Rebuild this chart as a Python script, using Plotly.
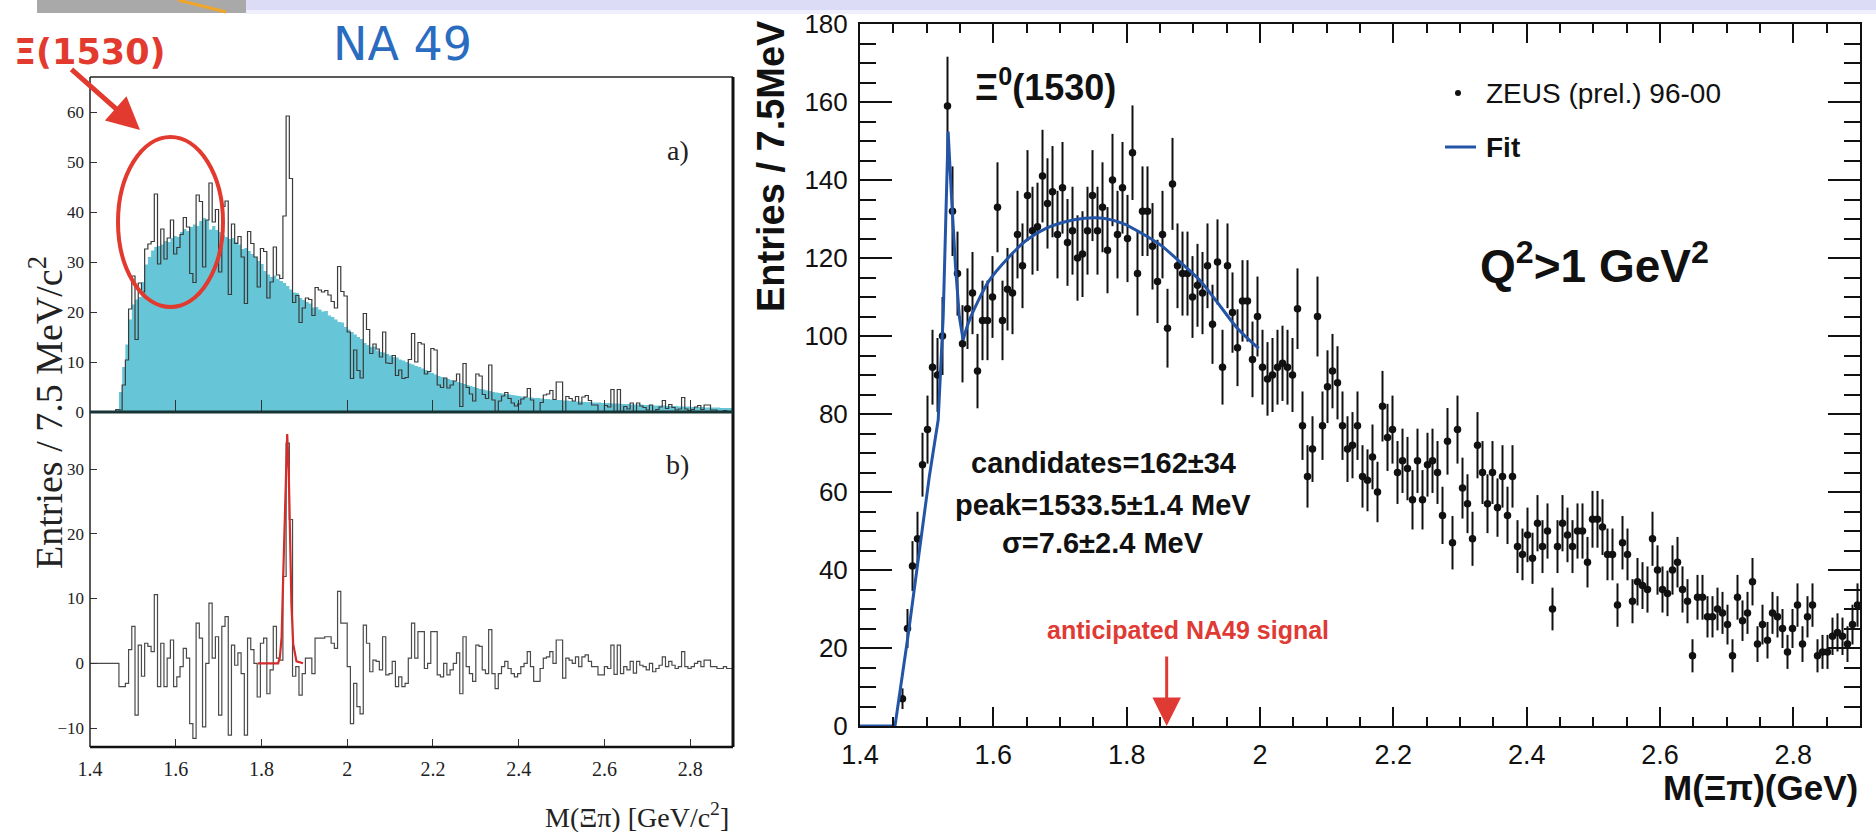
import plotly.graph_objects as go

W, H = 1876, 832

# ---------------- data ----------------
BIN_WIDTH = 0.0075          # GeV (7.5 MeV bins)
X_MIN, X_MAX = 1.4, 2.9
N_BINS = 200

# NA49 a): mixed-event background (cyan filled histogram)
na49_background = [
    0, 0, 0, 0, 0, 0, 0, 0, 0.5, 4,
    9, 13.5, 18.5, 21.5, 22.5, 23, 26, 29.5, 31, 32.3,
    33, 33.2, 33.5, 34.2, 34, 34.8, 35.2, 35, 36, 36.6,
    36.2, 37, 37.5, 37.2, 38.2, 38.8, 38.4, 36.5, 37.2, 36.4,
    36, 35.4, 35, 34.6, 34.8, 34, 33.5, 32.6, 32.8, 32.2,
    31.6, 31, 30.2, 29.6, 28.2, 27.5, 27, 27.3, 26.6, 26.2,
    25.8, 25.2, 24.5, 23.9, 23.8, 22.8, 22.4, 22, 21.7, 20.9,
    21, 20.5, 20.1, 20.2, 19.3, 19, 18.5, 18, 17.9, 17,
    16.5, 16, 15.5, 15, 14.6, 13.8, 13.4, 13, 13.1, 12.3,
    12, 11.9, 11.6, 11.3, 11, 10.9, 10.5, 10.3, 10, 9.7,
    9.5, 9.2, 9, 8.7, 8.4, 8.1, 7.8, 7.5, 7.2, 7,
    6.8, 6.6, 6.4, 6.2, 6, 5.8, 5.6, 5.4, 5.2, 5,
    4.8, 4.6, 4.5, 4.3, 4.2, 4, 3.9, 3.8, 3.7, 3.6,
    3.5, 3.4, 3.3, 3.2, 3.1, 3, 2.9, 2.9, 2.8, 2.8,
    2.7, 2.6, 2.6, 2.5, 2.5, 2.4, 2.4, 2.3, 2.3, 2.2,
    2.2, 2.1, 2.1, 2, 2, 2, 1.9, 1.9, 1.9, 1.8,
    1.8, 1.8, 1.7, 1.7, 1.7, 1.6, 1.6, 1.6, 1.5, 1.5,
    1.5, 1.5, 1.4, 1.4, 1.4, 1.3, 1.3, 1.3, 1.3, 1.2,
    1.2, 1.2, 1.2, 1.1, 1.1, 1.1, 1.1, 1, 1, 1,
    1, 0.9, 0.9, 0.9, 0.9, 0.9, 0.8, 0.8, 0.8, 0.8,
]

# NA49 a): Xi pi data (black outline histogram)
na49_data = [
    0, 0, 0, 0, 0, 0, 0, 0, 0.5, 0.4,
    5.4, 10.4, 20.6, 27.2, 14.5, 25.8, 24, 32.6, 33.6, 34.1,
    43.6, 29.6, 36.6, 30.6, 34.8, 38.4, 31.6, 32.9, 35.5, 38.9,
    37, 27.7, 25.9, 43.4, 42.1, 29, 38.4, 45.8, 38, 40.5,
    28, 41.1, 42.2, 23.5, 37.6, 33.7, 35.1, 31, 21.7, 36.1,
    33.7, 31, 25, 32.7, 32.1, 22.8, 26, 33, 27.4, 26.7,
    39.2, 59.2, 46.7, 21.9, 23.3, 17.9, 20.8, 22.8, 22.5, 19.3,
    24.9, 24.4, 24, 24.3, 23.4, 22.1, 20.8, 29.1, 24.1, 23.2,
    16, 6.7, 12.4, 8.3, 6.8, 19.7, 16.5, 11.7, 13.6, 12.6,
    11, 16, 9.8, 9.7, 11.3, 7.3, 8.4, 6.7, 6.9, 10.5,
    15.7, 10, 13.9, 13.6, 7.6, 8.1, 12.7, 12.4, 5.4, 4.9,
    6.8, 4.8, 5.4, 6.2, 7.6, 1.1, 9.7, 4.9, 3.6, 2.2,
    7.6, 7.2, 3.5, 2.7, 9.4, 2.4, 0, 2.2, 3.2, 3.9,
    2.7, 1.8, 1.2, 1.6, 2.6, 3, 4.7, 2.4, 0, 0,
    1.9, 3.4, 3.6, 4.3, 2.5, 6, 6, 0, 3.1, 2.7,
    2.2, 3.1, 1.6, 3, 3.3, 2.3, 1.4, 1.4, 0.1, 0,
    1.3, 1, 4.5, 0, 4.5, 0, 1.1, 0.6, 1.8, 0,
    1.8, 1.2, 0.9, 0.4, 1.4, 0, 0.5, 1, 2.3, 0.7,
    1.5, 0.9, 0.4, 0.6, 2.9, 0.6, 0.3, 0.5, 1, 1.3,
    0.5, 1.4, 1.4, 0.4, 0.4, 0.1, 0, 0.3, 0, 0,
]

# NA49 b): background-subtracted spectrum
na49_subtracted = [
    0, 0, 0, 0, 0, 0, 0, 0, 0, -3.6,
    -3.6, -3.1, 2.1, 5.7, -8, 2.8, -2, 3.1, 2.6, 1.8,
    10.6, -3.6, 3.1, -3.6, 0.8, 3.6, -3.6, -2.1, -0.5, 2.3,
    0.8, -9.3, -11.6, 6.2, 3.9, -9.8, 0, 9.3, 0.8, 4.1,
    -8, 5.7, 7.2, -11.1, 2.8, -0.3, 1.6, -1.6, -11.1, 3.9,
    2.1, 0, -5.2, 3.1, 3.9, -4.7, -1, 5.7, 0.8, 0.5,
    13.4, 34, 22.2, -2, -0.5, -4.9, -1.6, 0.8, 0.8, -1.6,
    3.9, 3.9, 3.9, 4.1, 4.1, 3.1, 2.3, 11.1, 6.2, 6.2,
    -0.5, -9.3, -3.1, -6.7, -7.8, 5.9, 3.1, -1.3, 0.5, 0.3,
    -1, 4.1, -1.8, -1.6, 0.3, -3.6, -2.1, -3.6, -3.1, 0.8,
    6.2, 0.8, 4.9, 4.9, -0.8, 0, 4.9, 4.9, -1.8, -2.1,
    0, -1.8, -1, 0, 1.6, -4.7, 4.1, -0.5, -1.6, -2.8,
    2.8, 2.6, -1, -1.6, 5.2, -1.6, -3.9, -1.6, -0.5, 0.3,
    -0.8, -1.6, -2.1, -1.6, -0.5, 0, 1.8, -0.5, -2.8, -2.8,
    -0.8, 0.8, 1, 1.8, 0, 3.6, 3.6, -2.3, 0.8, 0.5,
    0, 1, -0.5, 1, 1.3, 0.3, -0.5, -0.5, -1.8, -1.8,
    -0.5, -0.8, 2.8, -1.7, 2.8, -1.6, -0.5, -1, 0.3, -1.5,
    0.3, -0.3, -0.5, -1, 0, -1.3, -0.8, -0.3, 1, -0.5,
    0.3, -0.3, -0.8, -0.5, 1.8, -0.5, -0.8, -0.5, 0, 0.3,
    -0.5, 0.5, 0.5, -0.5, -0.5, -0.8, -0.8, -0.5, -0.8, -0.8,
]

# NA49 b): Gaussian fit (red)
na49_fit_mass = [1.792, 1.839, 1.843, 1.847, 1.8507, 1.855, 1.860, 1.8635, 1.8662, 1.870, 1.874, 1.8817, 1.897]
na49_fit_value = [0, 0, 1, 4, 13.4, 24, 35.4, 30, 22, 9, 3, 0.3, 0]

# ZEUS: entries per 7.5 MeV bin, starting at bin index 8 (1.46 GeV)
zeus_first_bin = 8
zeus_counts = [
    7, 25, 41, 48, 67, 76, 92, 90, 100, 159,
    132, 116, 98, 107, 111, 91, 104, 104, 110, 133,
    104, 112, 111, 126, 118, 136, 127, 128, 141, 134,
    137, 126, 138, 124, 127, 120, 121, 127, 136, 127,
    133, 122, 140, 126, 138, 125, 147, 116, 132, 132,
    123, 114, 126, 102, 139, 118, 116, 116, 110, 113,
    111, 118, 103, 119, 92, 118, 106, 97, 109, 109,
    94, 105, 92, 89, 90, 92, 93, 92, 90, 107,
    77, 64, 71, 105, 77, 87, 91, 88, 77, 71,
    72, 77, 64, 63, 69, 60, 82, 74, 76, 65,
    68, 66, 58, 68, 58, 67, 68, 65, 54, 73,
    47, 76, 61, 57, 48, 72, 65, 57, 65, 56,
    64, 54, 64, 46, 44, 49, 43, 52, 46, 50,
    30, 46, 52, 49, 46, 50, 50, 42, 53, 53,
    51, 44, 44, 31, 47, 44, 32, 37, 36, 35,
    48, 40, 35, 34, 40, 42, 35, 32, 18, 33,
    33, 28, 28, 30, 29, 26, 18, 33, 27, 29,
    37, 21, 26, 22, 29, 28, 25, 19, 25, 31,
    21, 28, 31, 18, 19, 19, 23, 24, 23, 21,
    26, 31,
]

# ZEUS fit curve (blue)
zeus_fit_mass = [1.400, 1.4525, 1.4726, 1.4898, 1.504, 1.5173, 1.5248, 1.5287, 1.5322, 1.5375,
                 1.5432, 1.5490, 1.5547, 1.564, 1.593, 1.622, 1.650, 1.679, 1.708, 1.737,
                 1.765, 1.794, 1.823, 1.851, 1.880, 1.909, 1.937, 1.966, 1.998]
zeus_fit_value = [0, 0, 23.8, 46, 64, 78.5, 105, 130, 152.4, 135,
                  118, 105, 99, 104, 114, 120, 124.6, 127.6, 129.3, 130.2,
                  130.2, 128.9, 126.3, 123.3, 119, 114.4, 108.4, 102, 96.8]
FIT_SPLIT = 12

na49_yticks_a = [0, 10, 20, 30, 40, 50, 60]
na49_yticks_b = [-10, 0, 10, 20, 30]
mass_ticks = [1.4, 1.6, 1.8, 2.0, 2.2, 2.4, 2.6, 2.8]
mass_tick_text = ["1.4", "1.6", "1.8", "2", "2.2", "2.4", "2.6", "2.8"]
zeus_yticks = [0, 20, 40, 60, 80, 100, 120, 140, 160, 180]
ANTICIPATED_MASS = 1.86

# ---------------- derived coordinates ----------------
edges = [X_MIN + BIN_WIDTH * i for i in range(N_BINS + 1)]
zeus_mass = [X_MIN + BIN_WIDTH * (zeus_first_bin + i + 0.5) for i in range(len(zeus_counts))]


def step(vals):
    return list(vals) + [vals[-1]]


def X(px):
    return px / W


def Y(py):
    return 1 - py / H


serif = "Liberation Serif, Times New Roman, serif"
sans = "Liberation Sans, Arial, Helvetica, sans-serif"
wide_font = "DejaVu Sans, Noto Sans, sans-serif"

CYAN = "#66c6d7"
ZEUS_BLUE = "#2354a6"
RED = "#e23a2e"

fig = go.Figure()

# NA49 a)
fig.add_trace(go.Scatter(x=edges, y=step(na49_background), mode="lines", line=dict(shape="hv", width=0, color=CYAN),
                         fill="tozeroy", fillcolor=CYAN, xaxis="x", yaxis="y", hoverinfo="skip"))
fig.add_trace(go.Scatter(x=edges, y=step(na49_data), mode="lines", line=dict(shape="hv", width=1.2, color="#3a3a3a"),
                         xaxis="x", yaxis="y"))
# NA49 b)
fig.add_trace(go.Scatter(x=edges, y=step(na49_subtracted), mode="lines", line=dict(shape="hv", width=1.2, color="#4a4a4a"),
                         xaxis="x2", yaxis="y2"))
fig.add_trace(go.Scatter(x=na49_fit_mass, y=na49_fit_value, mode="lines", line=dict(width=2.2, color="#d42b2b"),
                         xaxis="x2", yaxis="y2"))

# ZEUS
fig.add_trace(go.Scatter(x=zeus_mass, y=zeus_counts, mode="markers",
                         marker=dict(size=7.5, color="#111111"),
                         error_y=dict(type="sqrt", thickness=2, width=0, color="#111111"),
                         xaxis="x3", yaxis="y3"))
fig.add_trace(go.Scatter(x=zeus_fit_mass[:FIT_SPLIT + 1], y=zeus_fit_value[:FIT_SPLIT + 1], mode="lines",
                         line=dict(width=3, color=ZEUS_BLUE), xaxis="x3", yaxis="y3"))
fig.add_trace(go.Scatter(x=zeus_fit_mass[FIT_SPLIT:], y=zeus_fit_value[FIT_SPLIT:], mode="lines",
                         line=dict(width=3, color=ZEUS_BLUE, shape="spline", smoothing=0.8), xaxis="x3", yaxis="y3"))

left_dom = [X(90), X(733)]
a_dom = [Y(412), Y(77)]
b_dom = [Y(747), Y(412)]
r_xdom = [X(860), X(1860)]
r_ydom = [Y(726), Y(24)]

common = dict(showgrid=False, zeroline=False, automargin=False)

fig.update_layout(
    width=W, height=H,
    margin=dict(l=0, r=0, t=0, b=0, pad=0, autoexpand=False),
    paper_bgcolor="white", plot_bgcolor="rgba(0,0,0,0)",
    showlegend=False,
    xaxis=dict(domain=left_dom, anchor="y", range=[X_MIN, X_MAX], tickvals=mass_ticks, ticks="inside",
               ticklen=12, tickwidth=1.3, tickcolor="#333", showticklabels=False, showline=False, **common),
    yaxis=dict(domain=a_dom, anchor="x", range=[0, 67], tickvals=na49_yticks_a, ticks="inside", ticklen=7,
               tickwidth=1.3, tickcolor="#333", tickfont=dict(family=serif, size=17, color="#222"),
               ticklabelstandoff=5, showline=False, **common),
    xaxis2=dict(domain=left_dom, anchor="y2", range=[X_MIN, X_MAX], tickvals=mass_ticks, ticktext=mass_tick_text,
                ticks="inside", ticklen=8, tickwidth=1.3, tickcolor="#333",
                tickfont=dict(family=serif, size=20, color="#222"), ticklabelstandoff=8, showline=False, **common),
    yaxis2=dict(domain=b_dom, anchor="x2", range=[-12.92, 38.8], tickvals=na49_yticks_b, ticks="inside", ticklen=7,
                tickwidth=1.3, tickcolor="#333", tickfont=dict(family=serif, size=17, color="#222"),
                ticklabelstandoff=5, showline=False, **common),
    xaxis3=dict(domain=r_xdom, anchor="y3", range=[X_MIN, X_MAX], tickvals=mass_ticks, ticktext=mass_tick_text,
                ticks="inside", ticklen=19, tickwidth=2, tickcolor="#111",
                minor=dict(dtick=0.05, tick0=1.4, ticks="inside", ticklen=9, tickwidth=2, tickcolor="#111"),
                mirror="ticks", showline=True, linewidth=2, linecolor="#111",
                tickfont=dict(family=sans, size=27, color="#111"), ticklabelstandoff=4, **common),
    yaxis3=dict(domain=r_ydom, anchor="x3", range=[0, 180], tickvals=zeus_yticks,
                ticks="inside", ticklen=32, tickwidth=2, tickcolor="#111",
                minor=dict(dtick=5, tick0=0, ticks="inside", ticklen=16, tickwidth=2, tickcolor="#111"),
                mirror="ticks", showline=True, linewidth=2, linecolor="#111",
                tickfont=dict(family=sans, size=26, color="#111"), ticklabelstandoff=5, **common),
)

shapes = []
# slide decoration at top
shapes.append(dict(type="rect", xref="paper", yref="paper", x0=X(246), x1=X(1876), y0=Y(10), y1=Y(0),
                   fillcolor="#dcdcf7", line=dict(width=0), layer="below"))
shapes.append(dict(type="rect", xref="paper", yref="paper", x0=X(246), x1=X(1876), y0=Y(14), y1=Y(10),
                   fillcolor="#eeeefc", line=dict(width=0), layer="below"))
shapes.append(dict(type="rect", xref="paper", yref="paper", x0=X(37), x1=X(246), y0=Y(13), y1=Y(0),
                   fillcolor="#a9a9a9", line=dict(width=0), layer="below"))
shapes.append(dict(type="line", xref="paper", yref="paper", x0=X(178), x1=X(226), y0=Y(0), y1=Y(12),
                   line=dict(color="#f0a62a", width=3)))
# NA49 frame
for (x0, y0, x1, y1, w, c) in [
    (90, 77, 733, 77, 1.5, "#222"),
    (90, 77, 90, 747, 1.5, "#222"),
    (733, 77, 733, 747, 3, "#111"),
    (90, 747, 733, 747, 2.5, "#111"),
    (90, 412, 733, 412, 3.2, "#173333"),
]:
    shapes.append(dict(type="line", xref="paper", yref="paper", x0=X(x0), x1=X(x1), y0=Y(y0), y1=Y(y1),
                       line=dict(color=c, width=w)))
# red ellipse around Xi(1530)
shapes.append(dict(type="circle", xref="paper", yref="paper", x0=X(118), x1=X(223), y0=Y(307), y1=Y(137),
                   line=dict(color=RED, width=4)))
# ZEUS legend markers
shapes.append(dict(type="circle", xref="paper", yref="paper", x0=X(1455), x1=X(1461), y0=Y(96), y1=Y(90),
                   fillcolor="#111", line=dict(width=0)))
shapes.append(dict(type="line", xref="paper", yref="paper", x0=X(1445), x1=X(1476), y0=Y(147), y1=Y(147),
                   line=dict(color=ZEUS_BLUE, width=3)))
fig.update_layout(shapes=shapes)

ann = []


def text(px, py, s, size, family, color="#111", xanchor="center", bold=False, angle=0):
    if bold:
        s = "<b>" + s + "</b>"
    ann.append(dict(x=X(px), y=Y(py), xref="paper", yref="paper", text=s, showarrow=False,
                    xanchor=xanchor, yanchor="middle", textangle=angle,
                    font=dict(size=size, family=family, color=color)))


text(12, 52, "Ξ(1530)", 35, wide_font, RED, xanchor="left", bold=True)
text(402, 44, "NA 49", 46, wide_font, "#2a6cbf")
text(678, 150, "a)", 28, serif, "#222")
text(677, 465, "b)", 28, serif, "#222")
text(46, 413, "Entries / 7.5 MeV/c<sup>2</sup>", 38, serif, "#222", angle=-90)
text(731, 815, "M(Ξπ) [GeV/c<sup>2</sup>]", 28, serif, "#222", xanchor="right")

text(771, 166, "Entries / 7.5MeV", 38, sans, bold=True, angle=-90)
text(1860, 787, "M(Ξπ)(GeV)", 35, sans, xanchor="right", bold=True)
text(973, 85, "Ξ<sup>0</sup>(1530)", 36, sans, xanchor="left", bold=True)
text(1484, 93, "ZEUS (prel.) 96-00", 28, sans, xanchor="left")
text(1484, 147, "Fit", 28, sans, xanchor="left", bold=True)
text(1478, 263, "Q<sup>2</sup>&gt;1 GeV<sup>2</sup>", 46, sans, xanchor="left", bold=True)
text(1103, 463, "candidates=162±34", 29, sans, bold=True)
text(1103, 505, "peak=1533.5±1.4 MeV", 29, sans, bold=True)
text(1103, 543, "σ=7.6±2.4 MeV", 29, sans, bold=True)
text(1188, 630, "anticipated NA49 signal", 25, sans, "#e03a34", bold=True)

# arrows
ann.append(dict(x=X(140), y=Y(130), xref="paper", yref="paper", text="", showarrow=True,
                ax=-70, ay=-62, arrowhead=2, arrowwidth=5, arrowsize=1.3, arrowcolor=RED))
ann.append(dict(x=ANTICIPATED_MASS, y=0, xref="x3", yref="y3", text="", showarrow=True,
                ax=0, ay=-71, arrowhead=2, arrowwidth=3, arrowsize=1.9, arrowcolor="#e03a34"))
fig.update_layout(annotations=ann)

fig.write_html("out.html", post_script="document.body.style.margin='0';document.body.style.overflow='hidden';")
